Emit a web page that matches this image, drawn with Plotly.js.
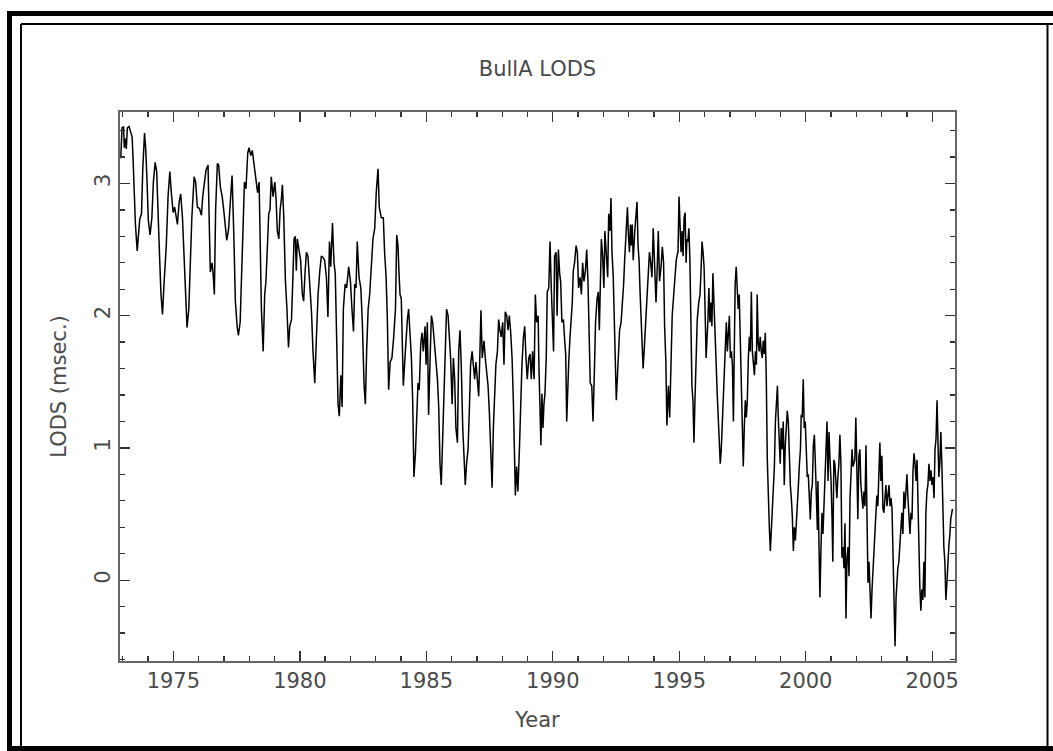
<!DOCTYPE html>
<html>
<head>
<meta charset="utf-8">
<script src="https://cdn.plot.ly/plotly-3.0.1.min.js"></script>
<style>
  html, body { margin: 0; padding: 0; background: #fff; }
  #chart { width: 1053px; height: 751px; }
</style>
</head>
<body>
<div id="chart"></div>
<script>
// ---- data ----
const years1973 = [1972.92,1972.97,1973.03,1973.06,1973.10,1973.14,1973.18,1973.25,1973.31,1973.37,
1973.41,1973.45,1973.50,1973.57,1973.62,1973.67,1973.74,1973.79,1973.86,1973.91,
1973.96,1974.01,1974.08,1974.15,1974.21,1974.28,1974.34,1974.40,1974.46,1974.51,
1974.57,1974.63,1974.72,1974.79,1974.86,1974.92,1974.99,1975.05,1975.12,1975.16,
1975.23,1975.29,1975.36,1975.42,1975.49,1975.54,1975.61,1975.66,1975.73,1975.82,
1975.88,1975.95,1976.03,1976.11,1976.16,1976.23,1976.29,1976.37,1976.42,1976.46,
1976.53,1976.57,1976.62,1976.67,1976.74,1976.79,1976.86,1976.93,1976.99,1977.06,
1977.11,1977.18,1977.24,1977.32,1977.39,1977.45,1977.52,1977.57,1977.64,1977.69,
1977.75,1977.81,1977.87,1977.94,1977.99,1978.06,1978.12,1978.19,1978.27,1978.33];
const lods1973 = [3.19,3.42,3.43,3.27,3.34,3.26,3.42,3.43,3.39,3.35,
3.17,2.93,2.69,2.49,2.64,2.73,2.77,3.11,3.38,3.25,
3.01,2.72,2.61,2.74,3.01,3.16,3.09,2.82,2.42,2.16,
2.01,2.24,2.53,2.90,3.09,2.93,2.78,2.82,2.74,2.69,
2.86,2.92,2.74,2.42,2.11,1.91,2.05,2.40,2.74,3.05,
3.01,2.82,2.81,2.76,2.90,3.01,3.10,3.14,2.74,2.33,
2.40,2.32,2.16,2.80,3.15,3.14,2.97,2.90,2.80,2.64,
2.57,2.65,2.85,3.06,2.61,2.11,1.92,1.85,1.95,2.29,
2.64,3.01,2.96,3.23,3.27,3.21,3.25,3.13,3.04,2.93];

const years1978 = [1978.39,1978.43,1978.48,1978.55,1978.59,1978.61,1978.66,1978.72,1978.77,1978.82,
1978.87,1978.94,1979.01,1979.06,1979.11,1979.17,1979.22,1979.27,1979.31,1979.36,
1979.43,1979.49,1979.55,1979.60,1979.67,1979.72,1979.77,1979.82,1979.86,1979.90,
1979.97,1980.03,1980.10,1980.15,1980.21,1980.26,1980.32,1980.39,1980.46,1980.52,
1980.59,1980.65,1980.72,1980.79,1980.85,1980.92,1980.98,1981.05,1981.11,1981.17,
1981.22,1981.29,1981.35,1981.40,1981.46,1981.51,1981.56,1981.62,1981.67,1981.72,
1981.79,1981.85,1981.93,1982.00,1982.06,1982.12,1982.17,1982.22,1982.27,1982.34,
1982.41,1982.47,1982.54,1982.59,1982.64,1982.70,1982.76,1982.83,1982.89,1982.96,
1983.02,1983.09,1983.14,1983.22,1983.30,1983.35,1983.41,1983.46,1983.51,1983.57,
1983.64,1983.71,1983.78,1983.83];
const lods1978 = [3.01,2.53,2.05,1.73,1.95,2.16,2.26,2.53,2.77,2.80,
3.05,2.90,3.01,2.88,2.64,2.58,2.80,2.88,2.99,2.77,
2.26,2.05,1.76,1.92,1.97,2.26,2.58,2.60,2.34,2.58,
2.50,2.42,2.16,2.11,2.34,2.48,2.45,2.26,2.03,1.73,
1.49,1.81,2.16,2.34,2.45,2.44,2.42,2.29,1.99,2.56,
2.37,2.70,2.40,2.32,1.89,1.33,1.24,1.55,1.31,2.05,
2.24,2.21,2.37,2.26,2.05,1.88,2.24,2.21,2.56,2.29,
2.21,1.95,1.47,1.33,1.73,2.05,2.16,2.42,2.58,2.66,
2.93,3.11,2.82,2.74,2.74,2.48,2.29,1.97,1.44,1.65,
1.68,1.84,2.05,2.61];

const years1984 = [1983.88,1983.92,1983.96,1984.01,1984.05,1984.09,1984.14,1984.20,1984.25,1984.30,
1984.36,1984.41,1984.46,1984.51,1984.57,1984.62,1984.67,1984.72,1984.78,1984.83,
1984.88,1984.95,1984.99,1985.04,1985.09,1985.15,1985.20,1985.25,1985.30,1985.37,
1985.44,1985.49,1985.54,1985.59,1985.65,1985.70,1985.75,1985.80,1985.86,1985.91,
1985.96,1986.02,1986.07,1986.12,1986.17,1986.23,1986.28,1986.33,1986.38,1986.44,
1986.49,1986.54,1986.59,1986.65,1986.70,1986.75,1986.81,1986.86,1986.91,1986.96,
1987.02,1987.07,1987.12,1987.16,1987.21,1987.28,1987.33,1987.39,1987.44,1987.49,
1987.54,1987.60,1987.65,1987.70,1987.75,1987.81,1987.86,1987.91,1987.96,1988.02,
1988.07,1988.12,1988.18,1988.23,1988.28,1988.33,1988.39,1988.44,1988.49,1988.52,
1988.57,1988.62,1988.68,1988.73,1988.78,1988.84,1988.89,1988.94,1988.99,1989.05,
1989.10,1989.15,1989.20,1989.26,1989.31,1989.36,1989.40];
const lods1984 = [2.53,2.32,2.16,2.13,1.68,1.47,1.63,1.84,1.97,2.05,
1.89,1.68,1.36,0.78,0.96,1.28,1.49,1.44,1.79,1.87,
1.73,1.92,1.63,1.95,1.25,1.68,2.00,1.95,1.84,1.73,
1.52,1.31,0.88,0.72,1.10,1.44,1.79,2.05,2.00,1.84,
1.68,1.33,1.68,1.52,1.15,1.04,1.73,1.89,1.63,1.15,
0.86,0.72,0.88,0.99,1.28,1.63,1.73,1.63,1.52,1.65,
1.47,1.39,1.73,2.04,1.68,1.81,1.68,1.57,1.47,1.28,
0.94,0.70,1.15,1.36,1.63,1.73,1.97,1.89,1.84,1.95,
1.63,2.03,2.00,1.89,2.00,1.89,1.68,1.36,0.99,0.64,
0.86,0.67,0.99,1.36,1.63,1.84,1.92,1.68,1.52,1.68,
1.71,1.52,1.73,1.52,2.16,1.95,2.00];

const years1989 = [1989.42,1989.45,1989.49,1989.53,1989.57,1989.61,1989.65,1989.69,1989.74,1989.78,
1989.84,1989.89,1989.94,1989.99,1990.03,1990.07,1990.13,1990.17,1990.22,1990.27,
1990.31,1990.36,1990.42,1990.47,1990.51,1990.55,1990.59,1990.63,1990.68,1990.73,
1990.77,1990.81,1990.86,1990.92,1990.97,1991.02,1991.08,1991.13,1991.18,1991.23,
1991.29,1991.34,1991.39,1991.43,1991.48,1991.54,1991.59,1991.64,1991.69,1991.75,
1991.80,1991.84,1991.88,1991.92,1991.97,1992.02,1992.06,1992.12,1992.17,1992.21,
1992.26,1992.30,1992.34,1992.39,1992.43,1992.47,1992.51,1992.55,1992.59,1992.64,
1992.70,1992.75,1992.80,1992.84,1992.89,1992.95,1992.99,1993.03,1993.07,1993.10,
1993.14,1993.18,1993.24,1993.29,1993.33,1993.37,1993.41,1993.45,1993.49,1993.53,
1993.57,1993.61,1993.66,1993.71,1993.76,1993.82,1993.87,1993.92,1993.97,1994.03,
1994.08,1994.13,1994.17,1994.22,1994.28,1994.33,1994.38,1994.42,1994.47,1994.51,
1994.57,1994.62,1994.67,1994.72,1994.78,1994.83,1994.88,1994.94];
const lods1989 = [2.00,1.63,1.33,1.02,1.41,1.15,1.33,1.41,1.68,2.18,
2.21,2.56,2.21,1.89,1.73,2.45,2.48,2.00,2.50,2.32,
2.26,1.95,1.97,1.81,1.71,1.20,1.52,1.65,1.84,1.97,
2.10,2.34,2.40,2.53,2.48,2.21,2.29,2.16,2.40,2.26,
2.34,2.50,2.26,1.92,1.49,1.47,1.20,1.55,1.95,2.13,
2.18,1.89,2.37,2.58,2.45,2.21,2.64,2.48,2.29,2.77,
2.64,2.89,2.48,2.29,1.95,1.68,1.36,1.52,1.68,1.89,
1.95,2.08,2.24,2.42,2.61,2.82,2.61,2.48,2.69,2.53,
2.69,2.42,2.64,2.74,2.86,2.53,2.42,2.18,1.95,1.68,
1.60,1.73,1.92,2.08,2.29,2.48,2.40,2.29,2.66,2.26,
2.10,2.37,2.64,2.26,2.37,2.52,2.40,1.92,1.65,1.17,
1.47,1.23,1.63,2.00,2.16,2.26,2.42,2.48];

const years1995 = [1994.95,1994.99,1995.03,1995.07,1995.11,1995.15,1995.19,1995.23,1995.27,1995.30,
1995.34,1995.38,1995.42,1995.46,1995.50,1995.54,1995.58,1995.62,1995.66,1995.71,
1995.77,1995.82,1995.86,1995.90,1995.94,1995.98,1996.02,1996.06,1996.10,1996.13,
1996.17,1996.21,1996.25,1996.29,1996.33,1996.37,1996.41,1996.45,1996.50,1996.54,
1996.58,1996.62,1996.66,1996.70,1996.74,1996.78,1996.82,1996.86,1996.90,1996.94,
1996.98,1997.02,1997.06,1997.10,1997.14,1997.18,1997.21,1997.25,1997.29,1997.33,
1997.37,1997.41,1997.45,1997.49,1997.53,1997.57,1997.61,1997.65,1997.69,1997.73,
1997.77,1997.81,1997.85,1997.89,1997.93,1997.97,1998.01,1998.05,1998.08,1998.12,
1998.16,1998.20,1998.24,1998.28,1998.32,1998.36,1998.40,1998.44,1998.48,1998.52,
1998.56,1998.60,1998.64,1998.68,1998.72,1998.76,1998.80,1998.84,1998.88,1998.91,
1998.95,1998.99,1999.03,1999.07,1999.11,1999.15,1999.19,1999.23,1999.27,1999.31,
1999.35,1999.39,1999.43,1999.47,1999.51,1999.55,1999.59,1999.63,1999.67,1999.71,
1999.75,1999.79,1999.82,1999.86,1999.90,1999.94,1999.98,2000.02,2000.06,2000.10,
2000.14,2000.18,2000.22,2000.26,2000.30,2000.34,2000.38,2000.42,2000.46];
const lods1995 = [2.48,2.90,2.74,2.48,2.64,2.45,2.74,2.78,2.40,2.58,
2.56,2.66,2.42,1.89,1.47,1.36,1.04,1.36,1.73,1.97,
2.10,2.16,2.34,2.56,2.48,2.37,2.05,1.68,1.84,1.95,
2.21,1.95,2.10,1.92,2.32,2.05,1.84,1.68,1.41,1.23,
1.07,0.88,0.99,1.20,1.47,1.63,1.79,1.95,1.73,1.84,
2.00,1.68,1.73,1.63,1.20,1.81,2.24,2.37,2.21,2.05,
2.16,1.84,1.41,1.04,0.86,1.15,1.36,1.23,1.36,1.68,
1.84,1.73,2.18,1.73,1.63,1.55,1.73,1.63,2.16,1.79,
1.73,1.84,1.73,1.68,1.81,1.71,1.87,1.52,0.91,0.56,
0.40,0.22,0.40,0.62,0.70,0.86,1.20,1.36,1.47,1.25,
1.04,0.88,1.15,0.99,1.20,0.72,1.02,1.15,1.28,1.20,
0.94,0.72,0.62,0.48,0.22,0.40,0.30,0.48,0.67,0.72,
0.88,0.99,1.25,1.23,1.52,1.15,1.20,0.88,0.78,0.80,
0.67,0.46,0.67,0.72,1.02,1.10,0.88,0.62,0.38];

const years2000 = [2000.48,2000.52,2000.56,2000.60,2000.64,2000.68,2000.72,2000.76,2000.80,2000.84,
2000.88,2000.92,2000.96,2001.00,2001.04,2001.07,2001.11,2001.15,2001.19,2001.23,
2001.27,2001.31,2001.35,2001.39,2001.43,2001.47,2001.51,2001.55,2001.59,2001.63,
2001.67,2001.71,2001.75,2001.79,2001.83,2001.87,2001.91,2001.94,2001.98,2002.02,
2002.06,2002.10,2002.14,2002.18,2002.22,2002.26,2002.30,2002.34,2002.38,2002.42,
2002.46,2002.50,2002.54,2002.58,2002.62,2002.66,2002.70,2002.74,2002.77,2002.81,
2002.85,2002.89,2002.93,2002.97,2003.01,2003.05,2003.09,2003.13,2003.17,2003.21,
2003.25,2003.29,2003.33,2003.37,2003.41,2003.45,2003.49,2003.53,2003.57,2003.61,
2003.64,2003.68,2003.72,2003.76,2003.80,2003.84,2003.88,2003.92,2003.96,2004.00,
2004.04,2004.08,2004.12,2004.16,2004.20,2004.24,2004.28,2004.32,2004.36,2004.40,
2004.43,2004.47,2004.51,2004.55,2004.59,2004.63,2004.67,2004.71,2004.75,2004.79,
2004.83,2004.87,2004.91,2004.95,2004.99,2005.03,2005.07,2005.11,2005.15,2005.19,
2005.23,2005.26,2005.30,2005.34,2005.38,2005.42,2005.46,2005.50,2005.54,2005.58,
2005.62,2005.66,2005.70,2005.73,2005.80];
const lods2000 = [0.75,0.40,-0.13,0.22,0.51,0.35,0.56,0.88,0.99,1.20,
0.75,1.12,0.91,0.75,0.46,0.14,0.91,0.88,0.75,0.62,
0.78,0.88,1.10,0.88,0.17,0.25,0.09,0.43,-0.29,0.17,
0.25,0.03,0.62,0.86,0.99,0.86,0.88,0.91,1.23,0.80,
0.46,0.94,0.99,0.72,0.62,0.54,0.67,0.56,1.02,0.62,
-0.02,0.14,-0.07,-0.29,-0.07,0.09,0.14,0.30,0.46,0.64,
0.56,0.88,1.04,0.75,0.94,0.54,0.51,0.62,0.72,0.56,
0.67,0.72,0.56,0.62,0.54,0.11,-0.13,-0.50,-0.13,0.06,
0.09,0.14,0.30,0.40,0.51,0.35,0.67,0.54,0.67,0.80,
0.62,0.46,0.35,0.51,0.46,0.83,0.96,0.88,0.75,0.91,
0.56,0.14,-0.05,-0.23,-0.07,-0.15,0.14,-0.13,0.51,0.67,
0.72,0.88,0.75,0.83,0.72,0.78,0.62,0.99,1.07,1.36,
1.07,0.78,0.88,1.12,0.88,0.48,0.25,0.14,-0.15,-0.02,
0.19,0.27,0.35,0.46,0.54];

const xTickLabels = ['1975', '1980', '1985', '1990', '1995', '2000', '2005'];
const xTickValues = [1975, 1980, 1985, 1990, 1995, 2000, 2005];
const yTickValues = [0, 1, 2, 3];
const yTickLabels = ['0', '1', '2', '3'];

const years = [].concat(years1973, years1978, years1984, years1989, years1995, years2000);
const lods  = [].concat(lods1973, lods1978, lods1984, lods1989, lods1995, lods2000);

// ---- layout helpers (pixel -> paper) ----
const PL = 120, PR = 955, PT = 112, PB = 661;
const px = v => (v - PL) / (PR - PL);
const py = v => (PB - v) / (PB - PT);

const textFont = { family: 'DejaVu Sans, Verdana, sans-serif', size: 21, color: '#4a4a4a' };
const axisCol = '#666666';
const tickCol = '#333333';

function frameLine(x0, y0, x1, y1, w) {
  return { type: 'line', xref: 'paper', yref: 'paper',
           x0: px(x0), y0: py(y0), x1: px(x1), y1: py(y1),
           line: { color: '#000', width: w }, layer: 'above' };
}

const layout = {
  width: 1053, height: 751,
  margin: { l: PL, r: 1053 - PR, t: PT, b: 751 - PB, pad: 0 },
  paper_bgcolor: '#fff', plot_bgcolor: '#fff',
  showlegend: false,
  title: { text: 'BullA LODS', font: textFont, x: 0.5, xref: 'paper',
           y: 1 - 69 / 751, yref: 'container', yanchor: 'middle' },
  xaxis: {
    range: [1972.89, 2005.90],
    tickmode: 'array', tickvals: xTickValues, ticktext: xTickLabels,
    ticks: 'inside', ticklen: 10, tickwidth: 1.3, tickcolor: tickCol,
    showline: true, linecolor: axisCol, linewidth: 1.6, mirror: 'ticks',
    showgrid: false, zeroline: false,
    minor: { ticks: 'inside', dtick: 1, tick0: 1975, ticklen: 5, tickwidth: 1.3, tickcolor: tickCol, showgrid: false },
    tickfont: textFont,
    title: { text: 'Year', font: textFont, standoff: 20 }
  },
  yaxis: {
    range: [-0.611, 3.540],
    tickmode: 'array', tickvals: yTickValues, ticktext: yTickLabels,
    tickangle: -90,
    ticks: 'inside', ticklen: 10, tickwidth: 1.3, tickcolor: tickCol,
    showline: true, linecolor: axisCol, linewidth: 1.6, mirror: 'ticks',
    showgrid: false, zeroline: false,
    minor: { ticks: 'inside', dtick: 0.2, tick0: 0, ticklen: 5, tickwidth: 1.3, tickcolor: tickCol, showgrid: false },
    tickfont: textFont,
    title: { text: 'LODS (msec.)', font: textFont, standoff: 18 }
  },
  shapes: [
    frameLine(9.5, 11, 9.5, 751, 5),
    frameLine(7, 13.5, 1053, 13.5, 5),
    frameLine(7, 748.5, 1053, 748.5, 5),
    frameLine(21, 24, 21, 751, 2),
    frameLine(21, 24, 1053, 24, 2),
    frameLine(1047.5, 24, 1047.5, 751, 2)
  ]
};

Plotly.newPlot('chart', [{
  x: years, y: lods, type: 'scatter', mode: 'lines',
  line: { color: '#000000', width: 1.5 }, hoverinfo: 'skip'
}], layout, { staticPlot: true, displayModeBar: false });
</script>
</body>
</html>
